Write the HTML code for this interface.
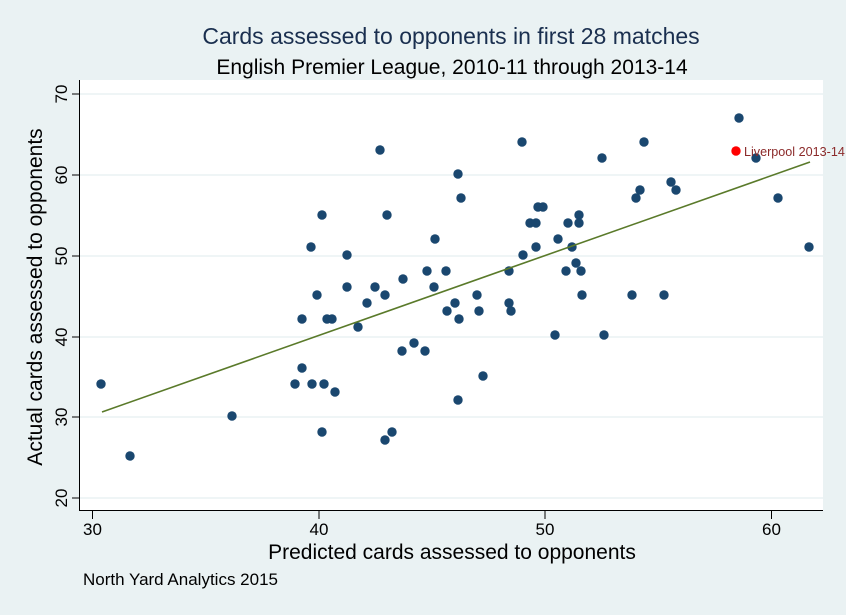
<!DOCTYPE html>
<html><head><meta charset="utf-8"><style>
body{margin:0;background:#eaf2f3;}
svg{display:block;font-family:"Liberation Sans",Arial,sans-serif;}
</style></head><body>
<svg width="846" height="615" viewBox="0 0 846 615" xmlns="http://www.w3.org/2000/svg">
<rect width="846" height="615" fill="#eaf2f3"/>
<rect x="80" y="80" width="743" height="431" fill="#fff"/>
<g stroke="#eaf2f3" stroke-width="1.5">
<line x1="80" y1="94" x2="823" y2="94"/><line x1="80" y1="175" x2="823" y2="175"/>
<line x1="80" y1="256" x2="823" y2="256"/><line x1="80" y1="337" x2="823" y2="337"/>
<line x1="80" y1="417" x2="823" y2="417"/><line x1="80" y1="498" x2="823" y2="498"/>
</g>
<g stroke="#000" stroke-width="1">
<line x1="79.5" y1="80" x2="79.5" y2="511"/><line x1="79.5" y1="510.5" x2="823" y2="510.5"/>
</g>
<g stroke="#000" stroke-width="1">
<line x1="72" y1="94" x2="80" y2="94"/><line x1="72" y1="175" x2="80" y2="175"/><line x1="72" y1="256" x2="80" y2="256"/>
<line x1="72" y1="337" x2="80" y2="337"/><line x1="72" y1="417" x2="80" y2="417"/><line x1="72" y1="498" x2="80" y2="498"/>
<line x1="92.5" y1="511" x2="92.5" y2="519"/><line x1="319" y1="511" x2="319" y2="519"/><line x1="545" y1="511" x2="545" y2="519"/><line x1="771.5" y1="511" x2="771.5" y2="519"/>
</g>
<g font-size="17" text-anchor="middle" fill="#000">
<text x="92.5" y="535">30</text><text x="319" y="535">40</text><text x="545" y="535">50</text><text x="771.5" y="535">60</text>
<text transform="translate(67,94) rotate(-90)">70</text>
<text transform="translate(67,175) rotate(-90)">60</text>
<text transform="translate(67,256) rotate(-90)">50</text>
<text transform="translate(67,337) rotate(-90)">40</text>
<text transform="translate(67,417) rotate(-90)">30</text>
<text transform="translate(67,498) rotate(-90)">20</text>
</g>
<text x="451" y="44" font-size="23" text-anchor="middle" fill="#1a2f4f">Cards assessed to opponents in first 28 matches</text>
<text x="452" y="74" font-size="21" text-anchor="middle" fill="#000">English Premier League, 2010-11 through 2013-14</text>
<text x="452" y="559" font-size="21" text-anchor="middle" fill="#000">Predicted cards assessed to opponents</text>
<text transform="translate(42,297) rotate(-90)" font-size="21" text-anchor="middle" fill="#000">Actual cards assessed to opponents</text>
<text x="83" y="585" font-size="17" fill="#000">North Yard Analytics 2015</text>
<g fill="#1a476f">
<circle cx="380" cy="150" r="4.7"/><circle cx="458" cy="174" r="4.7"/><circle cx="461" cy="198" r="4.7"/><circle cx="322" cy="215" r="4.7"/><circle cx="387" cy="215" r="4.7"/><circle cx="435" cy="239" r="4.7"/><circle cx="311" cy="247" r="4.7"/><circle cx="347" cy="255" r="4.7"/><circle cx="427" cy="271" r="4.7"/><circle cx="446" cy="271" r="4.7"/><circle cx="317" cy="295" r="4.7"/><circle cx="347" cy="287" r="4.7"/><circle cx="375" cy="287" r="4.7"/><circle cx="403" cy="279" r="4.7"/><circle cx="434" cy="287" r="4.7"/><circle cx="385" cy="295" r="4.7"/><circle cx="367" cy="303" r="4.7"/><circle cx="455" cy="303" r="4.7"/><circle cx="447" cy="311" r="4.7"/><circle cx="459" cy="319" r="4.7"/><circle cx="302" cy="319" r="4.7"/><circle cx="327" cy="319" r="4.7"/><circle cx="332" cy="319" r="4.7"/><circle cx="358" cy="327" r="4.7"/><circle cx="402" cy="351" r="4.7"/><circle cx="414" cy="343" r="4.7"/><circle cx="425" cy="351" r="4.7"/><circle cx="302" cy="368" r="4.7"/><circle cx="295" cy="384" r="4.7"/><circle cx="312" cy="384" r="4.7"/><circle cx="324" cy="384" r="4.7"/><circle cx="335" cy="392" r="4.7"/><circle cx="458" cy="400" r="4.7"/><circle cx="322" cy="432" r="4.7"/><circle cx="392" cy="432" r="4.7"/><circle cx="385" cy="440" r="4.7"/>
<circle cx="522" cy="142" r="4.7"/><circle cx="644" cy="142" r="4.7"/><circle cx="602" cy="158" r="4.7"/><circle cx="671" cy="182" r="4.7"/><circle cx="676" cy="190" r="4.7"/><circle cx="640" cy="190" r="4.7"/><circle cx="636" cy="198" r="4.7"/><circle cx="538" cy="207" r="4.7"/><circle cx="543" cy="207" r="4.7"/><circle cx="530" cy="223" r="4.7"/><circle cx="536" cy="223" r="4.7"/><circle cx="568" cy="223" r="4.7"/><circle cx="579" cy="215" r="4.7"/><circle cx="579" cy="223" r="4.7"/><circle cx="558" cy="239" r="4.7"/><circle cx="536" cy="247" r="4.7"/><circle cx="572" cy="247" r="4.7"/><circle cx="523" cy="255" r="4.7"/><circle cx="509" cy="271" r="4.7"/><circle cx="566" cy="271" r="4.7"/><circle cx="576" cy="263" r="4.7"/><circle cx="581" cy="271" r="4.7"/><circle cx="477" cy="295" r="4.7"/><circle cx="582" cy="295" r="4.7"/><circle cx="632" cy="295" r="4.7"/><circle cx="664" cy="295" r="4.7"/><circle cx="509" cy="303" r="4.7"/><circle cx="479" cy="311" r="4.7"/><circle cx="511" cy="311" r="4.7"/><circle cx="555" cy="335" r="4.7"/><circle cx="604" cy="335" r="4.7"/><circle cx="483" cy="376" r="4.7"/>
<circle cx="101" cy="384" r="4.7"/><circle cx="130" cy="456" r="4.7"/><circle cx="232" cy="416" r="4.7"/><circle cx="739" cy="118" r="4.7"/><circle cx="756" cy="158" r="4.7"/><circle cx="778" cy="198" r="4.7"/><circle cx="809" cy="247" r="4.7"/>
</g>
<line x1="102" y1="412" x2="810" y2="162" stroke="#5a7a2a" stroke-width="1.6"/>
<circle cx="736" cy="151" r="4.7" fill="#ff0000"/>
<text x="744" y="156" font-size="12.6" fill="#8b2a2a">Liverpool 2013-14</text>
</svg>
</body></html>
